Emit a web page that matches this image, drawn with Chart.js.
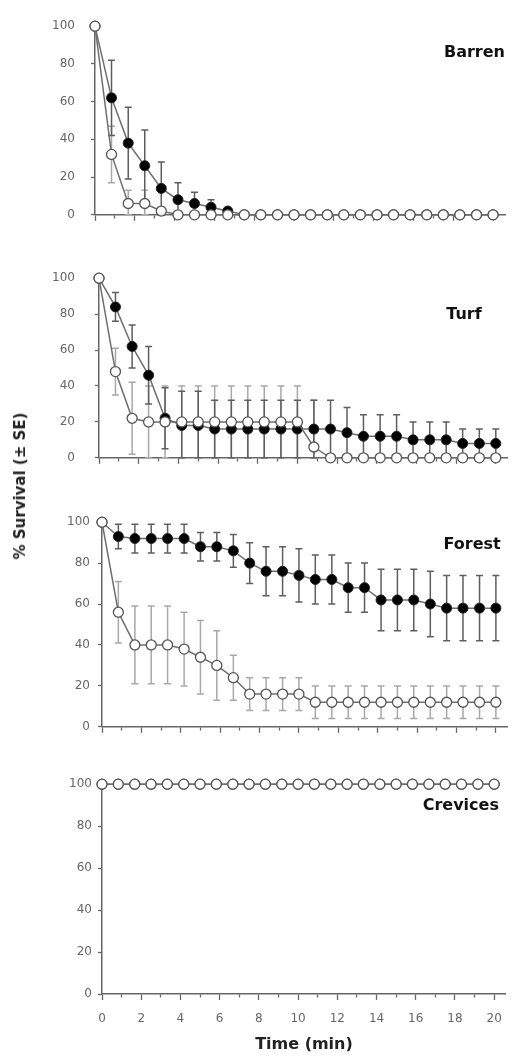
<!DOCTYPE html>
<html>
<head>
<meta charset="utf-8">
<script src="https://cdn.jsdelivr.net/npm/chart.js@4"></script>
<style>
  body { margin: 0; background: #fff; }
  #wrap { position: relative; width: 514px; height: 1059px; overflow: hidden; }
  #wrap canvas { position: absolute; left: 0; }
  #ylabel {
    position: absolute; left: 20px; top: 486px;
    transform: translate(-50%, -50%) rotate(-90deg);
    font: bold 15px "DejaVu Sans", sans-serif; color: #222; white-space: nowrap;
  }
</style>
</head>
<body>
<div id="wrap">
  <canvas id="barren"></canvas>
  <canvas id="turf"></canvas>
  <canvas id="forest"></canvas>
  <canvas id="crevices"></canvas>
  <div id="ylabel">% Survival (± SE)</div>
</div>
<script>
// sampling times (min)
const minutes = [0, 0.83, 1.67, 2.5, 3.33, 4.17, 5, 5.83, 6.67, 7.5, 8.33, 9.17, 10,
                 10.83, 11.67, 12.5, 13.33, 14.17, 15, 15.83, 16.67, 17.5, 18.33, 19.17, 20];
const xTickValues = [0, 1, 2, 3, 4, 5, 6, 7, 8, 9, 10, 11, 12, 13, 14, 15, 16, 17, 18, 19, 20];
const yTickValues = [0, 20, 40, 60, 80, 100];

// Barren
const barrenFilled   = [100, 62, 38, 26, 14, 8, 6, 4, 2, 0, 0, 0, 0, 0, 0, 0, 0, 0, 0, 0, 0, 0, 0, 0, 0];
const barrenFilledSE = [0, 20, 19, 19, 14, 9, 6, 4, 0, 0, 0, 0, 0, 0, 0, 0, 0, 0, 0, 0, 0, 0, 0, 0, 0];
const barrenOpen     = [100, 32, 6, 6, 2, 0, 0, 0, 0, 0, 0, 0, 0, 0, 0, 0, 0, 0, 0, 0, 0, 0, 0, 0, 0];
const barrenOpenSE   = [0, 15, 7, 7, 2, 0, 0, 0, 0, 0, 0, 0, 0, 0, 0, 0, 0, 0, 0, 0, 0, 0, 0, 0, 0];

// Turf
const turfFilled   = [100, 84, 62, 46, 22, 18, 18, 16, 16, 16, 16, 16, 16, 16, 16, 14, 12, 12, 12, 10, 10, 10, 8, 8, 8];
const turfFilledSE = [0, 8, 12, 16, 17, 19, 19, 16, 16, 16, 16, 16, 16, 16, 16, 14, 12, 12, 12, 10, 10, 10, 8, 8, 8];
const turfOpen     = [100, 48, 22, 20, 20, 20, 20, 20, 20, 20, 20, 20, 20, 6, 0, 0, 0, 0, 0, 0, 0, 0, 0, 0, 0];
const turfOpenSE   = [0, 13, 20, 20, 20, 20, 20, 20, 20, 20, 20, 20, 20, 26, 0, 0, 0, 0, 0, 0, 0, 0, 0, 0, 0];

// Forest
const forestFilled   = [100, 93, 92, 92, 92, 92, 88, 88, 86, 80, 76, 76, 74, 72, 72, 68, 68, 62, 62, 62, 60, 58, 58, 58, 58];
const forestFilledSE = [0, 6, 7, 7, 7, 7, 7, 7, 8, 10, 12, 12, 13, 12, 12, 12, 12, 15, 15, 15, 16, 16, 16, 16, 16];
const forestOpen     = [100, 56, 40, 40, 40, 38, 34, 30, 24, 16, 16, 16, 16, 12, 12, 12, 12, 12, 12, 12, 12, 12, 12, 12, 12];
const forestOpenSE   = [0, 15, 19, 19, 19, 18, 18, 17, 11, 8, 8, 8, 8, 8, 8, 8, 8, 8, 8, 8, 8, 8, 8, 8, 8];

// Crevices
const crevicesFilled   = [100, 100, 100, 100, 100, 100, 100, 100, 100, 100, 100, 100, 100, 100, 100, 100, 100, 100, 100, 100, 100, 100, 100, 100, 100];
const crevicesFilledSE = [0, 0, 0, 0, 0, 0, 0, 0, 0, 0, 0, 0, 0, 0, 0, 0, 0, 0, 0, 0, 0, 0, 0, 0, 0];
const crevicesOpen     = [100, 100, 100, 100, 100, 100, 100, 100, 100, 100, 100, 100, 100, 100, 100, 100, 100, 100, 100, 100, 100, 100, 100, 100, 100];
const crevicesOpenSE   = [0, 0, 0, 0, 0, 0, 0, 0, 0, 0, 0, 0, 0, 0, 0, 0, 0, 0, 0, 0, 0, 0, 0, 0, 0];

// draws the ± SE whiskers under the markers
const errorBars = {
    id: 'errorBars',
    beforeDatasetsDraw(chart) {
        const { ctx, scales: { x, y } } = chart;
        chart.data.datasets.forEach(ds => {
            if (!ds.se) return;
            ctx.save();
            ctx.strokeStyle = ds.barColor;
            ctx.lineWidth = 1.5;
            ds.data.forEach((p, i) => {
                const e = ds.se[i];
                if (!e) return;
                const px = x.getPixelForValue(p.x);
                const top = y.getPixelForValue(Math.min(100, p.y + e));
                const bot = y.getPixelForValue(Math.max(0, p.y - e));
                ctx.beginPath();
                ctx.moveTo(px, top); ctx.lineTo(px, bot);
                ctx.moveTo(px - 3.5, top); ctx.lineTo(px + 3.5, top);
                ctx.moveTo(px - 3.5, bot); ctx.lineTo(px + 3.5, bot);
                ctx.stroke();
            });
            ctx.restore();
        });
    }
};

// habitat name in the upper right corner
const panelLabel = {
    id: 'panelLabel',
    afterDatasetsDraw(chart, args, opts) {
        const { ctx, chartArea } = chart;
        ctx.save();
        ctx.font = 'bold 16px "DejaVu Sans", sans-serif';
        ctx.fillStyle = '#111';
        ctx.textAlign = 'right';
        ctx.textBaseline = 'middle';
        ctx.fillText(opts.text, chartArea.right - opts.dx, chartArea.top + opts.dy);
        ctx.restore();
    }
};

function points(vals) {
    return vals.map((v, i) => ({ x: minutes[i], y: v }));
}

function makePanel(id, cfg) {
    const el = document.getElementById(id);
    const plotH = cfg.bottom - cfg.top;
    const h = 12 + plotH + cfg.xh;
    el.style.top = (cfg.top - 12) + 'px';
    el.style.width = '514px';
    el.style.height = h + 'px';
    el.width = 514;
    el.height = h;

    return new Chart(el.getContext('2d'), {
        type: 'line',
        data: {
            datasets: [{
                label: 'open',
                data: points(cfg.open),
                se: cfg.openSE,
                barColor: '#a8a8a8',
                borderColor: '#6e6e6e',
                borderWidth: 1.5,
                pointRadius: 5,
                pointBackgroundColor: '#fff',
                pointBorderColor: '#555',
                pointBorderWidth: 1.3,
                tension: 0,
                clip: false
            }, {
                label: 'filled',
                data: points(cfg.filled),
                se: cfg.filledSE,
                barColor: '#5e5e5e',
                borderColor: '#6e6e6e',
                borderWidth: 1.5,
                pointRadius: 5,
                pointBackgroundColor: '#000',
                pointBorderColor: '#222',
                pointBorderWidth: 1,
                tension: 0,
                clip: false
            }]
        },
        options: {
            responsive: false,
            animation: false,
            events: [],
            layout: { padding: { top: 12, right: 514 - (cfg.left + 410), left: 0, bottom: 0 } },
            plugins: {
                legend: { display: false },
                tooltip: { enabled: false },
                panelLabel: { text: cfg.name, dx: cfg.dx, dy: cfg.dy }
            },
            scales: {
                x: {
                    type: 'linear',
                    min: 0,
                    max: 20.6,
                    afterBuildTicks: axis => { axis.ticks = xTickValues.map(v => ({ value: v })); },
                    afterFit: scale => { scale.height = cfg.xh; },
                    border: { display: true, color: '#666', width: 1.5 },
                    grid: {
                        drawOnChartArea: false,
                        drawTicks: true,
                        tickLength: 6,
                        tickColor: '#666',
                        tickWidth: 1.3,
                        tickBorderDash: c => (c.tick && c.tick.value % 2 === 0) ? [] : [3, 20]
                    },
                    ticks: {
                        display: cfg.showX,
                        padding: 12,
                        color: '#666',
                        font: { family: 'DejaVu Sans', size: 12 },
                        maxRotation: 0,
                        autoSkip: false,
                        callback: v => (v % 2 === 0 ? v : '')
                    },
                    title: {
                        display: cfg.showX,
                        text: 'Time (min)',
                        color: '#222',
                        font: { family: 'DejaVu Sans', size: 16, weight: 'bold' },
                        padding: { top: 18 }
                    }
                },
                y: {
                    min: 0,
                    max: 100,
                    afterBuildTicks: axis => { axis.ticks = yTickValues.map(v => ({ value: v })); },
                    afterFit: scale => { scale.width = cfg.left; },
                    border: { display: true, color: '#666', width: 1.5 },
                    grid: {
                        drawOnChartArea: false,
                        drawTicks: true,
                        tickLength: 4,
                        tickColor: '#666',
                        tickWidth: 1.3
                    },
                    ticks: {
                        padding: cfg.gap - 4,
                        color: '#666',
                        font: { family: 'DejaVu Sans', size: 12 }
                    }
                }
            }
        },
        plugins: [errorBars, panelLabel]
    });
}

makePanel('barren', {
    name: 'Barren', left: 95, top: 15, bottom: 226, xh: 12, gap: 20, dx: 0, dy: 27, showX: false,
    filled: barrenFilled, filledSE: barrenFilledSE, open: barrenOpen, openSE: barrenOpenSE
});
makePanel('turf', {
    name: 'Turf', left: 99, top: 263, bottom: 473, xh: 12, gap: 24, dx: 26, dy: 37, showX: false,
    filled: turfFilled, filledSE: turfFilledSE, open: turfOpen, openSE: turfOpenSE
});
makePanel('forest', {
    name: 'Forest', left: 102, top: 519, bottom: 730, xh: 12, gap: 12, dx: 7, dy: 23, showX: false,
    filled: forestFilled, filledSE: forestFilledSE, open: forestOpen, openSE: forestOpenSE
});
makePanel('crevices', {
    name: 'Crevices', left: 102, top: 783, bottom: 994, xh: 64, gap: 10, dx: 7, dy: 22, showX: true,
    filled: crevicesFilled, filledSE: crevicesFilledSE, open: crevicesOpen, openSE: crevicesOpenSE
});
</script>
</body>
</html>
